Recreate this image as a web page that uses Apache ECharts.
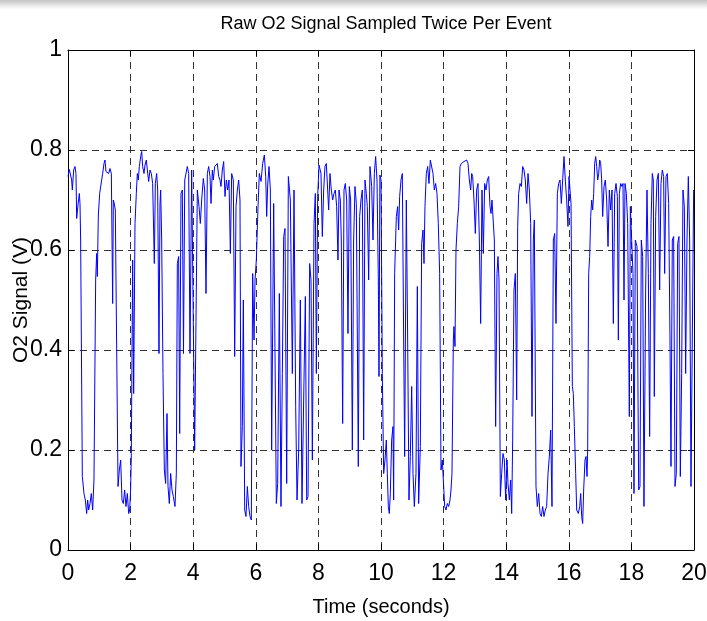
<!DOCTYPE html>
<html>
<head>
<meta charset="utf-8">
<title>Raw O2 Signal</title>
<script src="https://cdn.jsdelivr.net/npm/echarts@6.0.0/dist/echarts.min.js"></script>
<style>
  html, body { margin: 0; padding: 0; background: #fff; }
  #chart { width: 707px; height: 621px; }
</style>
</head>
<body>
<div id="chart"></div>
<script>
// O2 sensor trace, [time (s), signal (V)], split in 2 s chunks
const trace0to2 = [
  [0.0,0.747],[0.042,0.761],[0.085,0.76],[0.117,0.74],[0.138,0.72],[0.181,0.76],[0.224,0.767],[0.255,0.753],
  [0.277,0.663],[0.319,0.69],[0.362,0.713],[0.383,0.693],[0.404,0.62],[0.458,0.147],[0.511,0.113],[0.554,0.1],
  [0.596,0.073],[0.628,0.1],[0.66,0.08],[0.703,0.093],[0.745,0.113],[0.788,0.08],[0.83,0.14],[0.884,0.54],
  [0.916,0.593],[0.937,0.547],[0.969,0.67],[1.012,0.713],[1.044,0.713],[1.076,0.74],[1.108,0.753],[1.15,0.773],
  [1.182,0.78],[1.214,0.757],[1.257,0.76],[1.3,0.753],[1.342,0.763],[1.385,0.753],[1.427,0.493],[1.448,0.7],
  [1.48,0.693],[1.512,0.68],[1.598,0.127],[1.64,0.16],[1.683,0.18],[1.725,0.1],[1.768,0.093],[1.81,0.12],
  [1.853,0.087],[1.896,0.113],[1.938,0.073],[1.97,0.08]
]
const trace2to4 = [
  [2.0,0.12],[2.023,0.193],[2.066,0.58],[2.098,0.313],[2.141,0.653],[2.183,0.713],[2.215,0.753],[2.247,0.74],
  [2.279,0.767],[2.322,0.787],[2.354,0.797],[2.385,0.767],[2.428,0.753],[2.46,0.77],[2.503,0.78],[2.535,0.76],
  [2.577,0.737],[2.62,0.76],[2.662,0.753],[2.705,0.733],[2.758,0.573],[2.79,0.733],[2.833,0.753],[2.865,0.72],
  [2.907,0.393],[2.939,0.693],[2.961,0.72],[2.993,0.62],[3.035,0.353],[3.078,0.16],[3.12,0.133],[3.163,0.273],
  [3.195,0.127],[3.237,0.093],[3.28,0.153],[3.323,0.12],[3.365,0.107],[3.418,0.087],[3.461,0.153],[3.493,0.573],
  [3.535,0.587],[3.568,0.233],[3.61,0.713],[3.653,0.72],[3.69,0.393],[3.73,0.74],[3.812,0.767],[3.855,0.753],
  [3.898,0.393],[3.951,0.76],[3.994,0.763]
]
const trace4to6 = [
  [4.047,0.2],[4.132,0.72],[4.186,0.687],[4.228,0.653],[4.271,0.7],[4.324,0.743],[4.367,0.72],[4.409,0.513],
  [4.452,0.753],[4.494,0.767],[4.537,0.747],[4.569,0.693],[4.612,0.76],[4.643,0.74],[4.686,0.767],[4.729,0.77],
  [4.771,0.773],[4.814,0.747],[4.856,0.74],[4.888,0.727],[4.931,0.76],[4.974,0.777],[5.016,0.707],[5.059,0.74],
  [5.101,0.72],[5.144,0.74],[5.187,0.593],[5.229,0.753],[5.282,0.74],[5.325,0.387],[5.368,0.687],[5.41,0.72],
  [5.453,0.74],[5.495,0.7],[5.527,0.167],[5.57,0.247],[5.602,0.5],[5.645,0.08],[5.687,0.067],[5.73,0.127],
  [5.772,0.087],[5.815,0.067],[5.857,0.06],[5.9,0.553],[5.943,0.42],[5.975,0.54]
]
const trace6to8 = [
  [6.017,0.58],[6.071,0.687],[6.113,0.753],[6.167,0.737],[6.22,0.773],[6.273,0.79],[6.316,0.747],[6.348,0.667],
  [6.38,0.73],[6.422,0.767],[6.465,0.72],[6.507,0.2],[6.539,0.2],[6.571,0.693],[6.656,0.093],[6.699,0.133],
  [6.752,0.513],[6.805,0.087],[6.848,0.353],[6.891,0.627],[6.933,0.643],[6.987,0.133],[7.04,0.747],[7.104,0.7],
  [7.168,0.353],[7.221,0.72],[7.274,0.287],[7.317,0.1],[7.37,0.2],[7.423,0.5],[7.476,0.093],[7.53,0.093],
  [7.583,0.507],[7.626,0.1],[7.668,0.107],[7.721,0.573],[7.764,0.54],[7.807,0.18],[7.86,0.653],[7.902,0.713],
  [7.934,0.353],[7.977,0.707]
]
const trace8to10 = [
  [8.02,0.77],[8.083,0.753],[8.125,0.627],[8.168,0.72],[8.21,0.767],[8.253,0.773],[8.296,0.72],[8.328,0.68],
  [8.37,0.753],[8.413,0.72],[8.455,0.7],[8.498,0.713],[8.541,0.72],[8.583,0.687],[8.626,0.58],[8.658,0.72],
  [8.7,0.7],[8.732,0.62],[8.775,0.253],[8.818,0.72],[8.86,0.733],[8.903,0.7],[8.945,0.433],[8.988,0.727],
  [9.03,0.7],[9.084,0.2],[9.126,0.62],[9.169,0.727],[9.212,0.693],[9.275,0.167],[9.318,0.667],[9.361,0.7],
  [9.403,0.72],[9.446,0.22],[9.488,0.74],[9.531,0.713],[9.563,0.687],[9.606,0.54],[9.648,0.767],[9.702,0.727],
  [9.744,0.62],[9.787,0.753],[9.829,0.787],[9.872,0.74],[9.915,0.54],[9.936,0.347],[9.965,0.75],[10.0,0.74]
]
const trace10to12 = [
  [10.042,0.353],[10.085,0.153],[10.128,0.18],[10.17,0.22],[10.202,0.153],[10.234,0.087],[10.266,0.073],[10.298,0.113],
  [10.34,0.22],[10.383,0.247],[10.404,0.1],[10.436,0.553],[10.49,0.667],[10.532,0.687],[10.564,0.64],[10.596,0.707],
  [10.639,0.74],[10.681,0.753],[10.724,0.42],[10.756,0.187],[10.809,0.7],[10.852,0.42],[10.894,0.1],[10.937,0.187],
  [10.98,0.327],[11.022,0.153],[11.065,0.087],[11.118,0.153],[11.161,0.527],[11.203,0.093],[11.256,0.207],[11.299,0.613],
  [11.342,0.64],[11.374,0.573],[11.405,0.687],[11.448,0.753],[11.491,0.767],[11.533,0.733],[11.576,0.78],[11.629,0.78],
  [11.661,0.753],[11.704,0.72],[11.746,0.733],[11.789,0.713],[11.831,0.653],[11.874,0.553],[11.917,0.16],[11.959,0.18],
  [12.002,0.127]
]
const trace12to14 = [
  [12.034,0.087],[12.077,0.08],[12.119,0.093],[12.162,0.087],[12.204,0.1],[12.236,0.12],[12.268,0.153],[12.311,0.42],
  [12.332,0.447],[12.364,0.407],[12.396,0.6],[12.439,0.653],[12.481,0.687],[12.524,0.767],[12.567,0.773],[12.609,0.77],
  [12.652,0.777],[12.694,0.773],[12.737,0.78],[12.78,0.773],[12.822,0.74],[12.865,0.72],[12.897,0.753],[12.929,0.747],
  [12.971,0.7],[13.014,0.633],[13.056,0.72],[13.099,0.733],[13.142,0.62],[13.184,0.453],[13.227,0.72],[13.269,0.593],
  [13.312,0.733],[13.355,0.72],[13.397,0.74],[13.44,0.747],[13.482,0.687],[13.514,0.673],[13.546,0.7],[13.589,0.7],
  [13.621,0.62],[13.663,0.247],[13.706,0.553],[13.738,0.587],[13.77,0.54],[13.813,0.107],[13.855,0.153],[13.898,0.193],
  [13.941,0.18],[13.983,0.1]
]
const trace14to16 = [
  [14.026,0.18],[14.058,0.133],[14.1,0.1],[14.143,0.14],[14.175,0.073],[14.207,0.22],[14.249,0.52],[14.292,0.553],
  [14.335,0.3],[14.367,0.647],[14.398,0.713],[14.441,0.733],[14.484,0.727],[14.526,0.767],[14.569,0.76],[14.611,0.74],
  [14.654,0.693],[14.697,0.753],[14.739,0.72],[14.782,0.653],[14.824,0.267],[14.867,0.62],[14.899,0.66],[14.952,0.127],
  [14.995,0.087],[15.037,0.113],[15.08,0.073],[15.123,0.067],[15.165,0.087],[15.208,0.067],[15.25,0.08],[15.293,0.087],
  [15.336,0.153],[15.378,0.187],[15.421,0.24],[15.463,0.087],[15.506,0.62],[15.549,0.633],[15.591,0.453],[15.634,0.713],
  [15.676,0.733],[15.719,0.74],[15.762,0.693],[15.804,0.74],[15.847,0.787],[15.889,0.74],[15.932,0.7],[15.974,0.647]
]
const trace16to18 = [
  [16.007,0.747],[16.039,0.747],[16.071,0.693],[16.113,0.327],[16.145,0.313],[16.177,0.247],[16.22,0.153],[16.252,0.08],
  [16.305,0.073],[16.348,0.087],[16.38,0.113],[16.411,0.067],[16.443,0.053],[16.475,0.12],[16.518,0.18],[16.55,0.187],
  [16.582,0.147],[16.603,0.2],[16.635,0.553],[16.667,0.587],[16.699,0.667],[16.731,0.7],[16.763,0.68],[16.795,0.713],
  [16.827,0.773],[16.859,0.787],[16.891,0.767],[16.923,0.74],[16.955,0.753],[16.987,0.78],[17.019,0.773],[17.05,0.74],
  [17.082,0.667],[17.125,0.727],[17.168,0.74],[17.21,0.7],[17.253,0.607],[17.295,0.72],[17.338,0.68],[17.381,0.72],
  [17.423,0.453],[17.466,0.713],[17.508,0.733],[17.551,0.707],[17.583,0.42],[17.615,0.713],[17.657,0.733],[17.7,0.727],
  [17.732,0.733],[17.764,0.5],[17.796,0.733],[17.838,0.713],[17.881,0.653],[17.934,0.267],[17.966,0.687]
]
const trace18to20 = [
  [18.019,0.687],[18.051,0.553],[18.083,0.113],[18.125,0.62],[18.179,0.607],[18.232,0.12],[18.274,0.127],[18.317,0.62],
  [18.36,0.587],[18.402,0.087],[18.455,0.52],[18.498,0.72],[18.541,0.553],[18.583,0.227],[18.626,0.653],[18.668,0.753],
  [18.7,0.74],[18.732,0.307],[18.775,0.667],[18.818,0.74],[18.86,0.753],[18.903,0.52],[18.945,0.733],[18.988,0.76],
  [19.03,0.747],[19.062,0.553],[19.105,0.747],[19.148,0.753],[19.19,0.693],[19.233,0.42],[19.265,0.167],[19.307,0.62],
  [19.35,0.627],[19.393,0.127],[19.435,0.153],[19.478,0.613],[19.52,0.627],[19.563,0.147],[19.606,0.353],[19.648,0.72],
  [19.691,0.687],[19.733,0.353],[19.776,0.62],[19.819,0.747],[19.861,0.62],[19.904,0.127],[19.946,0.42],[19.989,0.72]
]

const o2Signal = [].concat(trace0to2, trace2to4, trace4to6, trace6to8, trace8to10,
  trace10to12, trace12to14, trace14to16, trace16to18, trace18to20)

const FONT = '"Liberation Sans", Arial, sans-serif'

const chart = echarts.init(document.getElementById('chart'))

// shared look for the boxed, matlab style axes
const frameAxis = {
  axisLine: { show: true, onZero: false, lineStyle: { color: '#000', width: 1 } },
  axisTick: { show: true, inside: true, length: 6, lineStyle: { color: '#000' } }
}
const gridLines = { show: true, lineStyle: { color: '#333', type: [7, 5], width: 1 } }

const option = {
  animation: false,
  backgroundColor: '#fff',
  // faint grey band along the top edge of the scanned figure
  graphic: [{
    type: 'rect',
    left: 0, top: 0,
    shape: { width: 707, height: 9 },
    style: {
      fill: new echarts.graphic.LinearGradient(0, 0, 0, 1, [
        { offset: 0, color: '#c4c4c4' },
        { offset: 1, color: '#ffffff' }
      ])
    },
    silent: true
  }],
  title: {
    text: 'Raw O2 Signal Sampled Twice Per Event',
    left: 381,
    top: 10,
    textAlign: 'center',
    textStyle: { fontFamily: FONT, fontWeight: 'normal', fontSize: 18, color: '#000' }
  },
  // fixed plot box; labels may run past the edge like in the original
  grid: { left: 68, top: 50, width: 626, height: 500, containLabel: false, outerBoundsMode: 'none' },
  xAxis: [
    {
      type: 'value', min: 0, max: 20, interval: 2, position: 'bottom',
      name: 'Time (seconds)', nameLocation: 'middle', nameGap: 47, nameMoveOverlap: false,
      nameTextStyle: { fontFamily: FONT, fontSize: 20, color: '#000' },
      ...frameAxis,
      axisLabel: { fontFamily: FONT, fontSize: 23, color: '#000', margin: 12 },
      splitLine: gridLines
    },
    {
      type: 'value', min: 0, max: 20, interval: 2, position: 'top',
      ...frameAxis,
      axisLabel: { show: false },
      splitLine: { show: false }
    }
  ],
  yAxis: [
    {
      type: 'value', min: 0, max: 1, interval: 0.2, position: 'left',
      name: 'O2 Signal (V)', nameLocation: 'middle', nameGap: 36, nameMoveOverlap: false,
      nameTextStyle: { fontFamily: FONT, fontSize: 21, color: '#000' },
      ...frameAxis,
      axisLabel: { fontFamily: FONT, fontSize: 23, color: '#000', margin: 6 },
      splitLine: gridLines
    },
    {
      type: 'value', min: 0, max: 1, interval: 0.2, position: 'right',
      ...frameAxis,
      axisLabel: { show: false },
      splitLine: { show: false }
    }
  ],
  series: [
    {
      type: 'line',
      data: o2Signal,
      showSymbol: false,
      symbol: 'none',
      lineStyle: { color: '#0000ff', width: 1 },
      z: 3
    }
  ]
}

chart.setOption(option)
</script>
</body>
</html>
